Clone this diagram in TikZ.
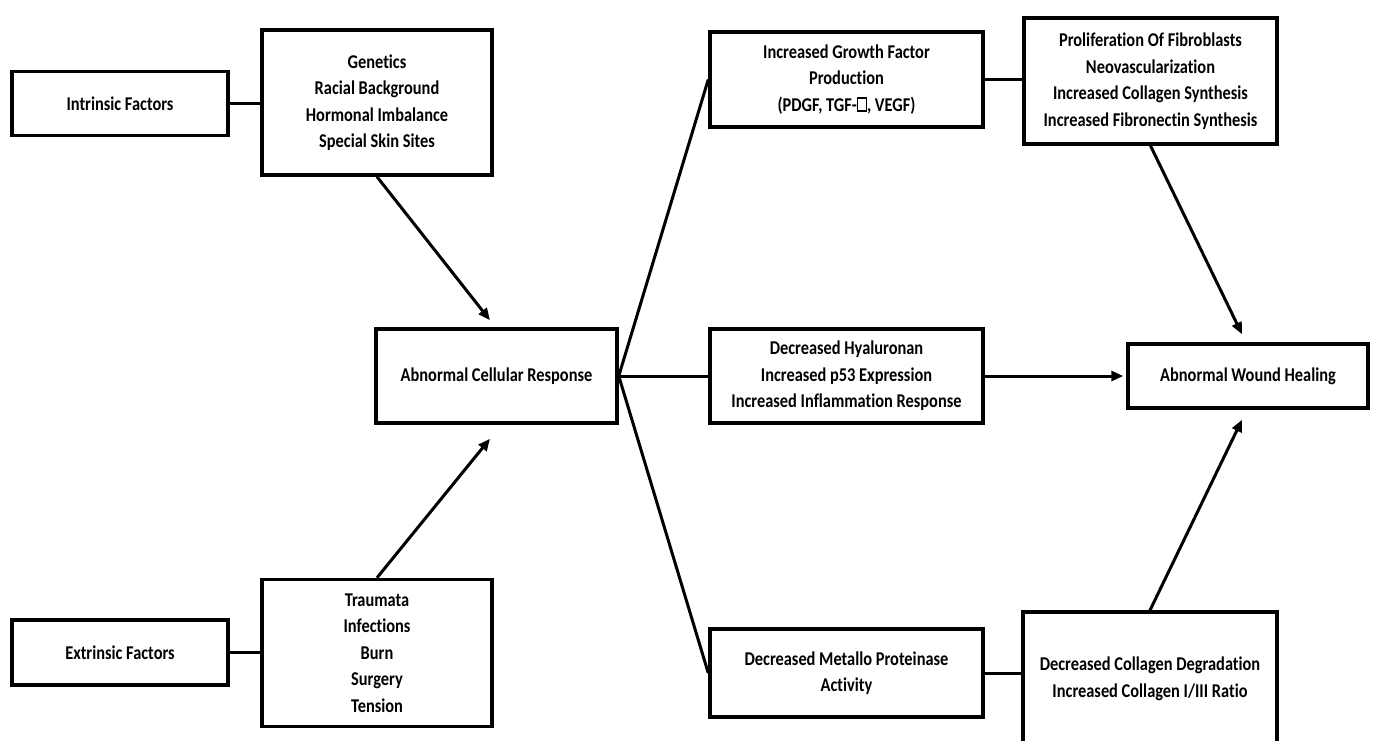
\documentclass[tikz,border=0pt]{standalone}
\usepackage{fontspec}
\setmainfont[FakeStretch=0.84,Ligatures=NoCommon]{Carlito}
\usetikzlibrary{arrows.meta}
\newcommand\tofubox{\leavevmode\hbox{\vrule width .07em height .72em depth .02em\lower.02em\vbox to .74em{\hrule height .07em width .38em\vfill\hrule height .07em width .38em}\vrule width .07em height .72em depth .02em}}
\begin{document}
\begin{tikzpicture}[x=1pt,y=-1pt,
  box/.style={draw, line width=3.5pt, rectangle, inner sep=0pt, align=center,
    font=\fontsize{19.5}{26.5}\selectfont\bfseries},
  conn/.style={line width=3pt},
  arr/.style={line width=3pt, -{Triangle[length=12pt,width=10pt]}}]
\useasboundingbox (0,0) rectangle (1375,740);
\clip (0,0) rectangle (1375,740);
\node[box, minimum width=216pt, minimum height=64pt] (intr) at (120,103.5) {Intrinsic Factors};
\node[box, minimum width=230pt, minimum height=145pt] (gen) at (377,102.5) {Genetics\\Racial Background\\Hormonal Imbalance\\Special Skin Sites};
\node[box, minimum width=216pt, minimum height=65pt] (ext) at (120,652.5) {Extrinsic Factors};
\node[box, minimum width=230pt, minimum height=147pt] (trau) at (377,653) {Traumata\\Infections\\Burn\\Surgery\\Tension};
\node[box, minimum width=241pt, minimum height=94pt] (acr) at (496.5,376) {Abnormal Cellular Response};
\node[box, minimum width=273pt, minimum height=95pt] (igf) at (846.5,79.5) {Increased Growth Factor\\Production\\(PDGF, TGF-\tofubox, VEGF)};
\node[box, minimum width=253pt, minimum height=126pt] (prol) at (1150.5,81) {Proliferation Of Fibroblasts\\Neovascularization\\Increased Collagen Synthesis\\Increased Fibronectin Synthesis};
\node[box, minimum width=273pt, minimum height=94pt] (dh) at (846.5,376) {Decreased Hyaluronan\\Increased p53 Expression\\Increased Inflammation Response};
\node[box, minimum width=240pt, minimum height=64pt] (awh) at (1248,376) {Abnormal Wound Healing};
\node[box, minimum width=273pt, minimum height=88pt] (dmp) at (846.5,673) {Decreased Metallo Proteinase\\Activity};
\node[box, minimum width=254pt, minimum height=134pt] (dcd) at (1150,679) {Decreased Collagen Degradation\\Increased Collagen I/III Ratio};
\draw[conn] (intr.east) -- (gen.west |- intr.east);
\draw[conn] (ext.east) -- (trau.west |- ext.east);
\draw[arr] (gen.south) -- ([xshift=-6.5pt,yshift=7pt]acr.north);
\draw[arr] (trau.north) -- ([xshift=-6.5pt,yshift=-14pt]acr.south);
\draw[conn] (acr.east) -- (igf.west);
\draw[conn] (acr.east) -- (dh.west);
\draw[conn] (acr.east) -- (dmp.west);
\draw[conn] (igf.east) -- (prol.west |- igf.east);
\draw[conn] (dmp.east) -- (dcd.west |- dmp.east);
\draw[arr] (prol.south) -- ([xshift=-6pt,yshift=8pt]awh.north);
\draw[arr] (dh.east) -- ([xshift=-3pt]awh.west);
\draw[arr] (dcd.north) -- ([xshift=-6pt,yshift=-10pt]awh.south);
\end{tikzpicture}
\end{document}
